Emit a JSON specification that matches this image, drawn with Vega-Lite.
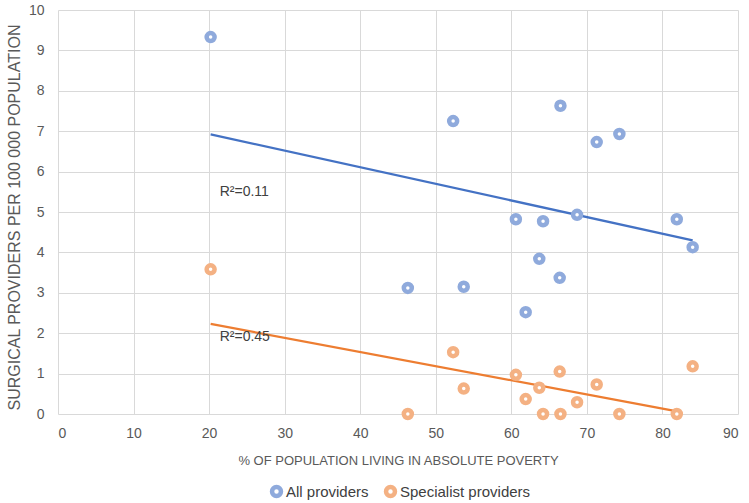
{
  "$schema": "https://vega.github.io/schema/vega-lite/v6.json",
  "width": 680,
  "height": 404,
  "autosize": {"type": "none"},
  "padding": {"left": 58, "top": 10, "right": 11, "bottom": 89},
  "background": "white",
  "config": {
    "view": {"stroke": null},
    "font": "Liberation Sans",
    "axis": {
      "domain": false,
      "ticks": false,
      "gridColor": "#d9d9d9",
      "gridWidth": 1,
      "labelFont": "Liberation Sans",
      "labelFontSize": 14,
      "labelColor": "#595959",
      "titleFont": "Liberation Sans",
      "titleFontSize": 13,
      "titleFontWeight": "normal",
      "titleColor": "#595959"
    }
  },
  "datasets": {
    "points": [
      {"x": 20.2, "y": 9.33, "series": "All providers"},
      {"x": 52.3, "y": 7.25, "series": "All providers"},
      {"x": 66.5, "y": 7.63, "series": "All providers"},
      {"x": 71.3, "y": 6.73, "series": "All providers"},
      {"x": 74.3, "y": 6.93, "series": "All providers"},
      {"x": 60.6, "y": 4.82, "series": "All providers"},
      {"x": 64.2, "y": 4.77, "series": "All providers"},
      {"x": 68.7, "y": 4.93, "series": "All providers"},
      {"x": 81.9, "y": 4.82, "series": "All providers"},
      {"x": 84.0, "y": 4.13, "series": "All providers"},
      {"x": 63.7, "y": 3.84, "series": "All providers"},
      {"x": 66.4, "y": 3.37, "series": "All providers"},
      {"x": 46.3, "y": 3.12, "series": "All providers"},
      {"x": 53.7, "y": 3.15, "series": "All providers"},
      {"x": 61.9, "y": 2.52, "series": "All providers"},
      {"x": 20.2, "y": 3.58, "series": "Specialist providers"},
      {"x": 52.3, "y": 1.53, "series": "Specialist providers"},
      {"x": 60.6, "y": 0.97, "series": "Specialist providers"},
      {"x": 66.4, "y": 1.05, "series": "Specialist providers"},
      {"x": 84.0, "y": 1.18, "series": "Specialist providers"},
      {"x": 63.7, "y": 0.65, "series": "Specialist providers"},
      {"x": 71.3, "y": 0.73, "series": "Specialist providers"},
      {"x": 53.7, "y": 0.63, "series": "Specialist providers"},
      {"x": 61.9, "y": 0.37, "series": "Specialist providers"},
      {"x": 68.7, "y": 0.29, "series": "Specialist providers"},
      {"x": 46.3, "y": 0.0, "series": "Specialist providers"},
      {"x": 64.2, "y": 0.0, "series": "Specialist providers"},
      {"x": 66.5, "y": 0.0, "series": "Specialist providers"},
      {"x": 74.3, "y": 0.0, "series": "Specialist providers"},
      {"x": 81.9, "y": 0.0, "series": "Specialist providers"}
    ],
    "trends": [
      {"x": 20.2, "y": 6.92, "series": "All providers"},
      {"x": 84.0, "y": 4.3, "series": "All providers"},
      {"x": 20.2, "y": 2.23, "series": "Specialist providers"},
      {"x": 82.3, "y": 0.05, "series": "Specialist providers"}
    ],
    "notes": [
      {"x": 21.4, "y": 5.5, "label": "R²=0.11"},
      {"x": 21.4, "y": 1.9, "label": "R²=0.45"}
    ]
  },
  "layer": [
    {
      "data": {"name": "trends"},
      "mark": {"type": "line", "strokeWidth": 2.25},
      "encoding": {
        "x": {
          "field": "x", "type": "quantitative",
          "scale": {"domain": [0, 90], "nice": false},
          "axis": {"values": [0, 10, 20, 30, 40, 50, 60, 70, 80, 90], "title": "% OF POPULATION LIVING IN ABSOLUTE POVERTY", "labelPadding": 12, "titlePadding": 14}
        },
        "y": {
          "field": "y", "type": "quantitative",
          "scale": {"domain": [0, 10], "nice": false},
          "axis": {"values": [0, 1, 2, 3, 4, 5, 6, 7, 8, 9, 10], "title": "SURGICAL PROVIDERS PER 100 000 POPULATION", "titleFontSize": 16, "labelPadding": 14, "titleX": -44, "titleY": 207, "titleAlign": "center", "titleBaseline": "middle", "titleAngle": -90}
        },
        "color": {
          "field": "series", "type": "nominal",
          "scale": {"domain": ["All providers", "Specialist providers"], "range": ["#4472c4", "#ed7d31"]},
          "legend": null
        },
        "detail": {"field": "series"}
      }
    },
    {
      "data": {"name": "points"},
      "mark": {"type": "point", "shape": "circle", "filled": false, "fill": "white", "fillOpacity": 1, "size": 64, "strokeWidth": 4.5, "opacity": 1},
      "encoding": {
        "x": {"field": "x", "type": "quantitative"},
        "y": {"field": "y", "type": "quantitative"},
        "stroke": {
          "field": "series", "type": "nominal",
          "scale": {"domain": ["All providers", "Specialist providers"], "range": ["#8faadc", "#f4b183"]},
          "legend": {
            "title": null,
            "orient": "none",
            "direction": "horizontal",
            "legendX": 211,
            "legendY": 474,
            "symbolType": "circle",
            "symbolSize": 80,
            "symbolStrokeWidth": 4.5,
            "symbolFillColor": "white",
            "labelFont": "Liberation Sans",
            "labelFontSize": 15,
            "labelColor": "#404040",
            "labelOffset": 2,
            "columnPadding": 8
          }
        }
      }
    },
    {
      "data": {"name": "notes"},
      "mark": {"type": "text", "align": "left", "baseline": "middle", "fontSize": 14, "font": "Liberation Sans", "color": "#404040"},
      "encoding": {
        "x": {"field": "x", "type": "quantitative"},
        "y": {"field": "y", "type": "quantitative"},
        "text": {"field": "label"}
      }
    }
  ],
  "resolve": {"scale": {"color": "independent", "stroke": "independent"}}
}
